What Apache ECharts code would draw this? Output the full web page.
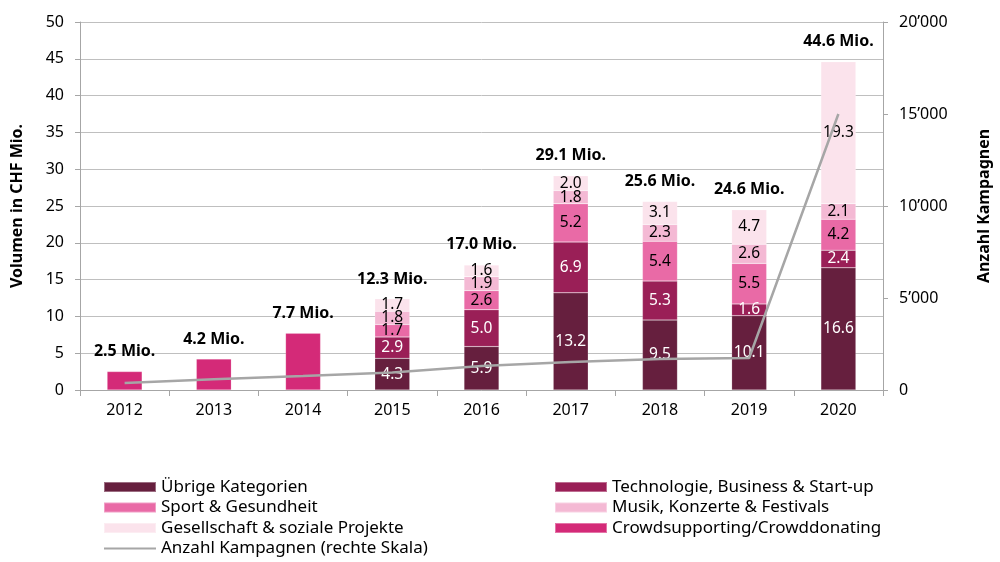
<!DOCTYPE html>
<html>
<head>
<meta charset="utf-8">
<script src="https://cdn.jsdelivr.net/npm/echarts@6/dist/echarts.min.js"></script>
<style>
  html, body { margin: 0; padding: 0; background: #fff; }
  #chart { width: 1000px; height: 562px; }
</style>
</head>
<body>
<div id="chart"></div>
<script>
const years = ['2012', '2013', '2014', '2015', '2016', '2017', '2018', '2019', '2020'];
const uebrige = [null, null, null, 4.3, 5.9, 13.2, 9.5, 10.1, 16.6];
const technologie = [null, null, null, 2.9, 5.0, 6.9, 5.3, 1.6, 2.4];
const sport = [null, null, null, 1.7, 2.6, 5.2, 5.4, 5.5, 4.2];
const musik = [null, null, null, 1.8, 1.9, 1.8, 2.3, 2.6, 2.1];
const gesellschaft = [null, null, null, 1.7, 1.6, 2.0, 3.1, 4.7, 19.3];
const crowdsupporting = [2.5, 4.2, 7.7, null, null, null, null, null, null];
const totals = [2.5, 4.2, 7.7, 12.3, 17.0, 29.1, 25.6, 24.6, 44.6];
const kampagnen = [380, 580, 760, 950, 1300, 1520, 1680, 1740, 15000];

const font = 'Noto Sans';

function stackSeries(name, data, color, labelColor, showLabel) {
    return {
        name: name,
        type: 'bar',
        stack: 'Total',
        barWidth: 35,
        barGap: '-100%',
        data: data,
        itemStyle: { color: color, borderColor: 'rgba(255,255,255,0.35)', borderWidth: 0.5 },
        label: {
            show: showLabel,
            position: 'inside',
            color: labelColor,
            fontFamily: font,
            fontSize: 15.5,
            formatter: function (p) {
                return p.value == null ? '' : p.value.toFixed(1);
            },
        },
    };
}

const legendText = { fontFamily: font, fontSize: 17, color: '#000', lineHeight: 20 };
// thin grey line for the line series in the legend (corner dots keep the 52x10 box)
const lineIcon = 'path://M0,0 L0.1,0 L0.1,0.1 Z M0,4 L52,4 L52,6 L0,6 Z M51.9,10 L52,10 L52,9.9 Z';

const myChart = echarts.init(document.getElementById('chart'));
const option = {
    animation: false,
    grid: {
        left: 80,
        right: 115,
        top: 22,
        bottom: 172,
    },
    legend: [
        {
            orient: 'vertical',
            left: 103,
            top: 477,
            padding: 0,
            icon: 'rect',
            itemWidth: 52,
            itemHeight: 10,
            itemGap: 0.5,
            textStyle: legendText,
            data: [
                'Übrige Kategorien',
                'Sport & Gesundheit',
                'Gesellschaft & soziale Projekte',
                { name: 'Anzahl Kampagnen (rechte Skala)', icon: lineIcon },
            ],
        },
        {
            orient: 'vertical',
            left: 554,
            top: 477,
            padding: 0,
            icon: 'rect',
            itemWidth: 52,
            itemHeight: 10,
            itemGap: 0.5,
            textStyle: legendText,
            data: ['Technologie, Business & Start-up', 'Musik, Konzerte & Festivals', 'Crowdsupporting/Crowddonating'],
        },
    ],
    xAxis: {
        type: 'category',
        data: years,
        axisLine: { lineStyle: { color: '#a6a6a6' } },
        axisTick: { show: true, length: 6, lineStyle: { color: '#a6a6a6' } },
        axisLabel: { fontFamily: font, fontSize: 16, color: '#000', margin: 12 },
    },
    yAxis: [
        {
            type: 'value',
            min: 0,
            max: 50,
            interval: 5,
            name: 'Volumen in CHF Mio.',
            nameLocation: 'middle',
            nameRotate: 90,
            nameGap: 55,
            nameTextStyle: { fontFamily: font, fontSize: 16, fontWeight: 'bold', color: '#000' },
            axisLine: { show: true, lineStyle: { color: '#a6a6a6' } },
            axisTick: { show: true, length: 5, lineStyle: { color: '#a6a6a6' } },
            axisLabel: { fontFamily: font, fontSize: 16, color: '#000', margin: 16 },
            splitLine: { lineStyle: { color: '#bfbfbf' } },
        },
        {
            type: 'value',
            min: 0,
            max: 20000,
            interval: 5000,
            position: 'right',
            name: 'Anzahl Kampagnen',
            nameLocation: 'middle',
            nameRotate: 90,
            nameGap: 93,
            nameTextStyle: { fontFamily: font, fontSize: 16, fontWeight: 'bold', color: '#000' },
            axisLine: { show: true, lineStyle: { color: '#a6a6a6' } },
            axisTick: { show: true, length: 5, lineStyle: { color: '#a6a6a6' } },
            axisLabel: {
                fontFamily: font,
                fontSize: 16,
                color: '#000',
                margin: 16,
                formatter: function (v) {
                    return String(v).replace(/\B(?=(\d{3})+(?!\d))/g, '’');
                },
            },
            splitLine: { show: false },
        },
    ],
    series: [
        stackSeries('Übrige Kategorien', uebrige, '#661f3e', '#fff', true),
        stackSeries('Technologie, Business & Start-up', technologie, '#9a1f57', '#fff', true),
        stackSeries('Sport & Gesundheit', sport, '#e96aa6', '#000', true),
        stackSeries('Musik, Konzerte & Festivals', musik, '#f4b9d4', '#000', true),
        stackSeries('Gesellschaft & soziale Projekte', gesellschaft, '#fbe3ec', '#000', true),
        stackSeries('Crowdsupporting/Crowddonating', crowdsupporting, '#d42a78', '#000', false),
        {
            name: 'Total',
            type: 'bar',
            barWidth: 35,
            barGap: '-100%',
            data: totals,
            silent: true,
            z: 1,
            itemStyle: { color: 'rgba(0,0,0,0)' },
            label: {
                show: true,
                position: 'top',
                distance: 12,
                fontFamily: font,
                fontSize: 16,
                fontWeight: 'bold',
                color: '#000',
                formatter: function (p) {
                    return p.value.toFixed(1) + ' Mio.';
                },
            },
        },
        {
            name: 'Anzahl Kampagnen (rechte Skala)',
            type: 'line',
            yAxisIndex: 1,
            data: kampagnen,
            symbol: 'none',
            z: 5,
            lineStyle: { color: '#a6a6a6', width: 2.5 },
            itemStyle: { color: '#a6a6a6' },
        },
    ],
};
myChart.setOption(option);
window.addEventListener('resize', myChart.resize);
</script>
</body>
</html>
